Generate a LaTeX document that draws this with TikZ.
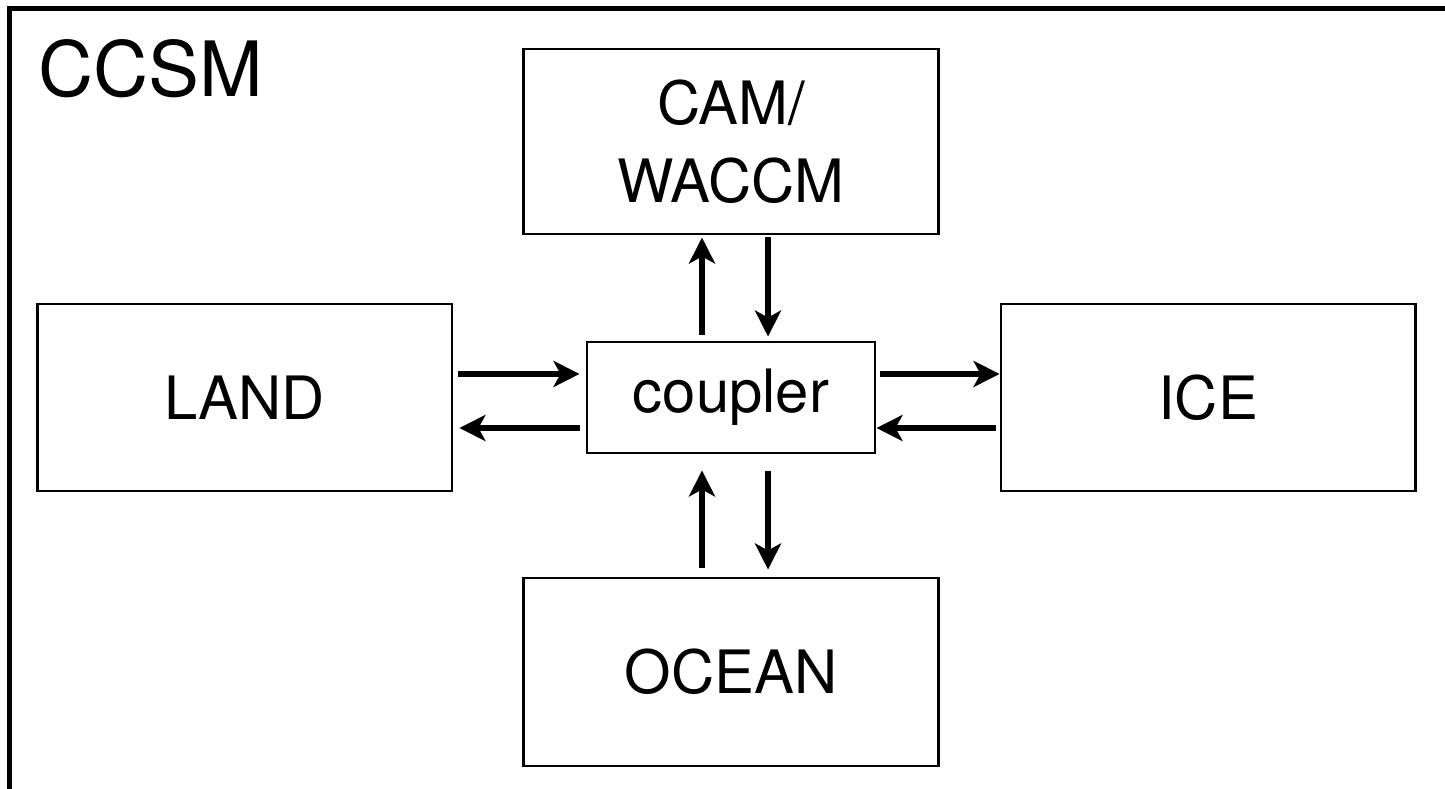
\documentclass[tikz,border=0pt]{standalone}
\usepackage{fontspec}
\setmainfont{TeX Gyre Heros}
\usetikzlibrary{calc, positioning}
\usetikzlibrary{arrows.meta}

\begin{document}
\begin{tikzpicture}[x=0.01cm, y=-0.01cm,
    box/.style={draw, line width=0.8pt, inner sep=0pt, align=center,
        font=\fontsize{17}{22}\selectfont},
    flow/.style={line width=1.6pt,
        -{Stealth[length=0.26cm, width=0.26cm, inset=0.07cm]}}]
\useasboundingbox (0,0) rectangle (1445,789);

% Outer frame and its title
\draw[line width=1.4pt] (9.5,820) -- (9.5,8.5) -- (1460,8.5);
\node[anchor=base west, inner sep=0pt, font=\fontsize{21.7}{26}\selectfont]
    (ccsm) at (38,97) {CCSM};

% Coupler and the four components round it
\node[box, minimum width=2.88cm, minimum height=1.11cm] (coupler) at (731,397.5) {coupler};
\node[box, minimum width=4.15cm, minimum height=1.85cm, above=1.05cm of coupler] (cam) {CAM/\\WACCM};
\node[box, minimum width=4.14cm, minimum height=1.87cm, left=1.32cm of coupler] (land) {LAND};
\node[box, minimum width=4.14cm, minimum height=1.87cm, right=1.23cm of coupler] (ice) {ICE};
\node[box, minimum width=4.15cm, minimum height=1.88cm, below=1.22cm of coupler] (ocean) {OCEAN};

% Exchanges with the coupler
\draw[flow, shorten <=0.05cm, shorten >=0.06cm]
    ([yshift=0.235cm]land.east) -- ([yshift=0.235cm]coupler.west);
\draw[flow, shorten <=0.06cm, shorten >=0.06cm]
    ([yshift=-0.305cm]coupler.west) -- ([yshift=-0.305cm]land.east);
\draw[flow, shorten <=0.03cm]
    ([yshift=0.235cm]coupler.east) -- ([yshift=0.235cm]ice.west);
\draw[flow, shorten <=0.04cm]
    ([yshift=-0.305cm]ice.west) -- ([yshift=-0.305cm]coupler.east);
\draw[flow, shorten <=0.06cm, shorten >=0.02cm]
    ([xshift=-0.29cm]coupler.north) -- ([xshift=-0.29cm]cam.south);
\draw[flow, shorten <=0.02cm, shorten >=0.04cm]
    ([xshift=0.37cm]cam.south) -- ([xshift=0.37cm]coupler.north);
\draw[flow, shorten <=0.08cm, shorten >=0.16cm]
    ([xshift=-0.29cm]ocean.north) -- ([xshift=-0.29cm]coupler.south);
\draw[flow, shorten <=0.17cm, shorten >=0.07cm]
    ([xshift=0.37cm]coupler.south) -- ([xshift=0.37cm]ocean.north);
\end{tikzpicture}
\end{document}
